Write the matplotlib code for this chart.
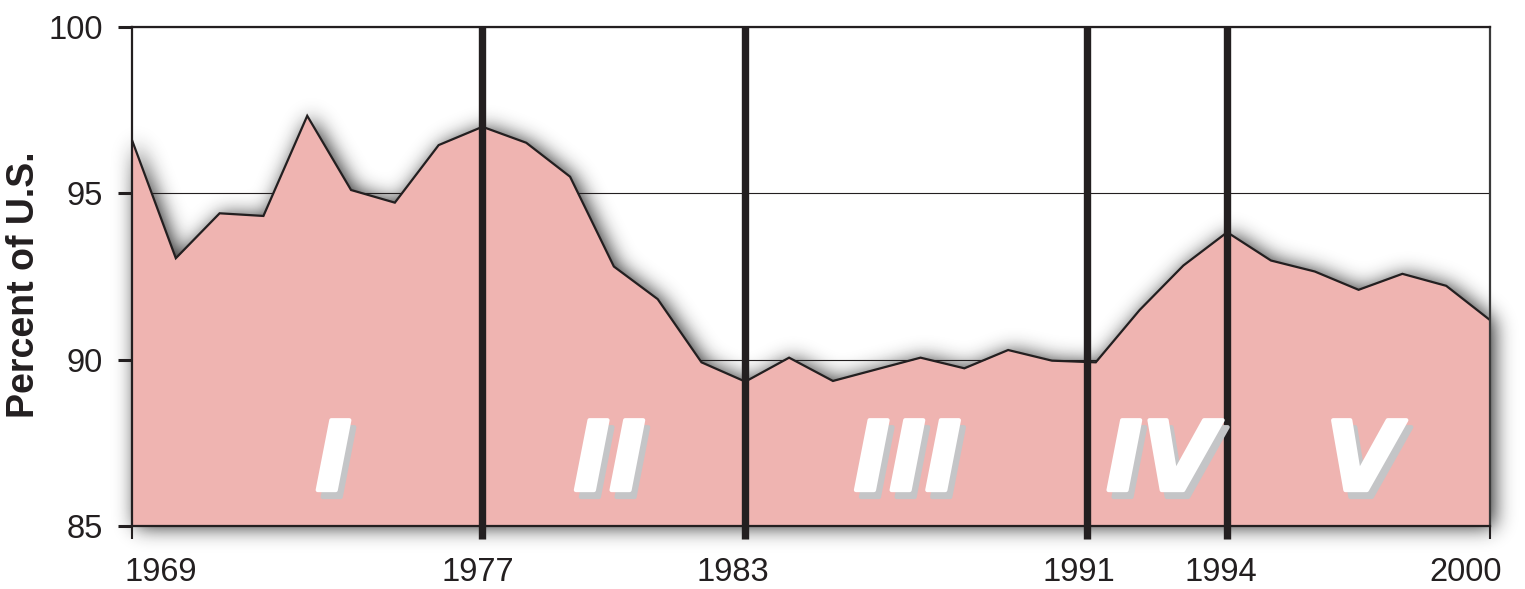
import numpy as np
import matplotlib
matplotlib.use("Agg")
import matplotlib.pyplot as plt
from matplotlib import patheffects as pe
from matplotlib import transforms as mtransforms
from matplotlib.path import Path

# ---------------- data ----------------
years = list(range(1969, 2001))
share = [96.60, 93.05, 94.40, 94.32, 97.33, 95.10, 94.72, 96.45, 97.00, 96.52,
         95.50, 92.80, 91.82, 89.92, 89.34, 90.06, 89.36, 89.71, 90.06, 89.74,
         90.29, 89.97, 89.92, 91.49, 92.83, 93.83, 92.98, 92.65, 92.10, 92.58,
         92.22, 91.19]
boundary_pos = [1977, 1983, 1990.8, 1994]
xtick_pos = [1969, 1977, 1983, 1990.8, 1994, 2000]
xtick_labels = ["1969", "1977", "1983", "1991", "1994", "2000"]
ytick_vals = [85, 90, 95, 100]
period_labels = ["I", "II", "III", "IV", "V"]
period_x = [1973.6, 1979.9, 1986.7, 1992.5, 1997.1]
period_y = 86.08

INK = "#231f20"
FILL = "#efb4b1"
W, H = 1525, 589

fig = plt.figure(figsize=(W / 100, H / 100), dpi=100)
bg = fig.add_axes([0, 0, 1, 1])
bg.set_zorder(0)
bg.axis("off")
ax = fig.add_axes([132 / W, 63 / H, 1358 / W, 499 / H])
ax.set_zorder(2)
ax.set_facecolor("none")
ax.set_xlim(1969, 2000)
ax.set_ylim(85, 100)

# ---------------- soft shadow around filled area ----------------
verts = [(years[0], 85)] + list(zip(years, share)) + [(years[-1], 85)]
pix = ax.transData.transform(verts)
xs = np.arange(W) + 0.5
ys = np.arange(H) + 0.5
gx, gy = np.meshgrid(xs, ys)
mask = Path(pix).contains_points(np.column_stack([gx.ravel(), gy.ravel()]))
mask = mask.reshape(H, W).astype(float)

def blur(a, sigma):
    r = int(3 * sigma)
    k = np.exp(-0.5 * (np.arange(-r, r + 1) / sigma) ** 2)
    k /= k.sum()
    p = np.pad(a, ((0, 0), (r, r)))
    out = np.zeros_like(a)
    for i, w in enumerate(k):
        out += w * p[:, i:i + a.shape[1]]
    p = np.pad(out, ((r, r), (0, 0)))
    out2 = np.zeros_like(a)
    for i, w in enumerate(k):
        out2 += w * p[i:i + a.shape[0], :]
    return out2

dx, dy = 4, -1
shifted = np.zeros_like(mask)
shifted[max(0, dy):H + min(0, dy), max(0, dx):W + min(0, dx)] = \
    mask[max(0, -dy):H - max(0, dy), max(0, -dx):W - max(0, dx)]
sh = blur(shifted, 10.0)
rgba = np.zeros((H, W, 4))
rgba[..., :3] = 0.1
rgba[..., 3] = np.clip(0.95 * sh, 0, 0.8)
bg.imshow(rgba, origin="lower", extent=[0, W, 0, H], interpolation="bilinear")
bg.set_xlim(0, W)
bg.set_ylim(0, H)

# ---------------- main chart ----------------
ax.yaxis.grid(True, color=INK, linewidth=0.8)
ax.set_axisbelow(True)
ax.fill_between(years, share, 85, color=FILL, linewidth=0, zorder=1)
ax.plot(years, share, color=INK, lw=1.6, zorder=3, solid_joinstyle="miter")
for b in boundary_pos:
    ax.axvline(b, color=INK, lw=5.3, zorder=4)

for s in ax.spines.values():
    s.set_linewidth(1.6)
    s.set_color(INK)
    s.set_zorder(5)
ax.spines["right"].set_color("#3a3a3a")

ax.set_xticks(xtick_pos)
ax.set_xticklabels(xtick_labels)
ax.set_yticks(ytick_vals)
ax.set_yticklabels([str(v) for v in ytick_vals])
ax.tick_params(axis="x", length=9, width=1.5, pad=13, direction="out",
               labelsize=23.5, colors=INK)
ax.tick_params(axis="y", length=10, width=2.2, pad=11, direction="out",
               labelsize=23.5, colors=INK)
for lbl in ax.get_xticklabels() + ax.get_yticklabels():
    lbl.set_fontfamily("Liberation Sans")
for t in ax.xaxis.get_major_ticks()[1:-1]:
    t.tick1line.set_markeredgewidth(5.3)

label_dx = [29, -5, -12, -8, -6, -24]
for lbl, d in zip(ax.get_xticklabels(), label_dx):
    lbl.set_transform(lbl.get_transform() +
                      mtransforms.ScaledTranslation(d / 100, 0, fig.dpi_scale_trans))

ax.set_ylabel("Percent of U.S.", fontsize=27, fontweight="bold",
              family="Liberation Sans", color=INK)
ax.yaxis.set_label_coords(-0.066, 0.483)

numeral_fx = [
    pe.SimplePatchShadow(offset=(3.6, -5), shadow_rgbFace="#c4c5c7", alpha=1,
                         linewidth=3, foreground="#c4c5c7"),
    pe.withStroke(linewidth=3, foreground="white"),
]
for txt, x in zip(period_labels, period_x):
    ax.text(x, period_y, txt, color="white", fontsize=69,
            fontweight="bold", fontstyle="italic", family="DejaVu Sans",
            ha="center", va="baseline", zorder=6, path_effects=numeral_fx)

fig.savefig("out.png", dpi=100)
